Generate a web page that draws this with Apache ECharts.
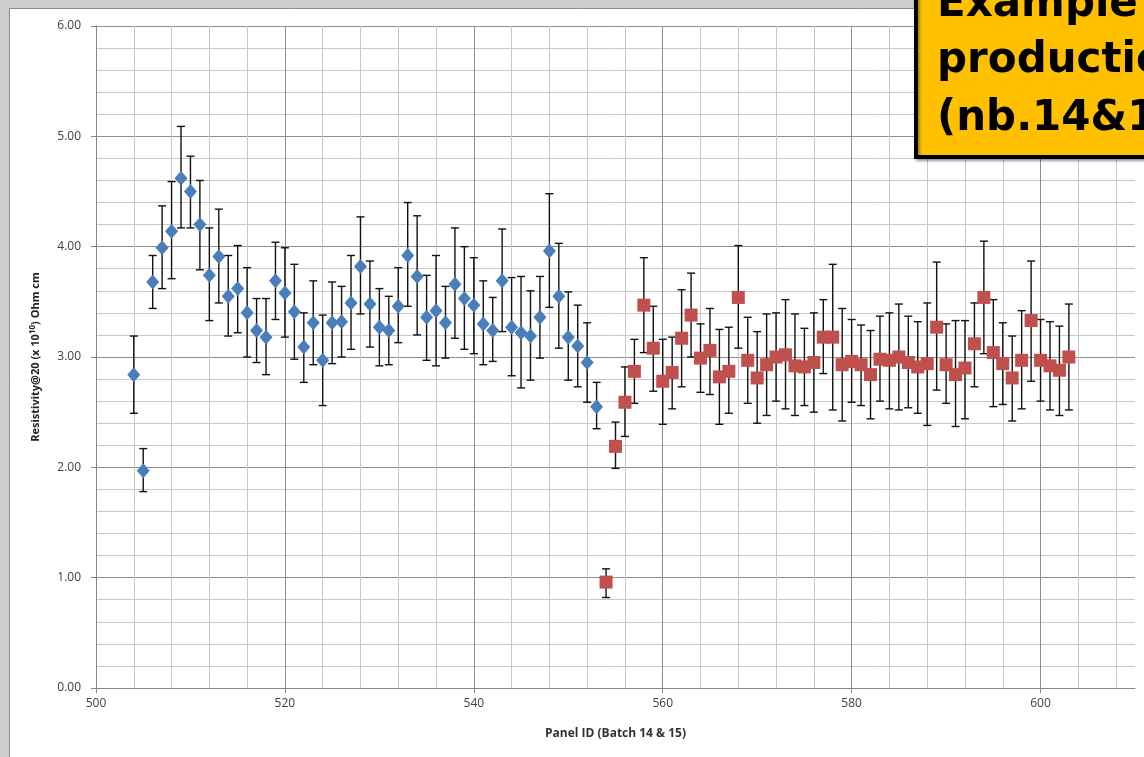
<!DOCTYPE html>
<html>
<head>
<meta charset="utf-8">
<script src="https://cdn.jsdelivr.net/npm/echarts@6/dist/echarts.min.js"></script>
<style>html,body{margin:0;padding:0;background:#fff}#c{width:1144px;height:757px}</style>
</head>
<body>
<div id="c"></div>
<script>
// Batch 14 (blue diamonds)
const blueIds  = [504,505,506,507,508,509,510,511,512,513,514,515,516,517,518,519,520,521,522,523,524,525,526,527,528,529,530,531,532,533,534,535,536,537,538,539,540,541,542,543,544,545,546,547,548,549,550,551,552,553];
const blueVals = [2.84,1.97,3.68,3.99,4.14,4.62,4.50,4.20,3.74,3.91,3.55,3.62,3.40,3.24,3.18,3.69,3.58,3.41,3.09,3.31,2.97,3.31,3.32,3.49,3.82,3.48,3.27,3.24,3.46,3.92,3.73,3.36,3.42,3.31,3.66,3.53,3.47,3.30,3.24,3.69,3.27,3.22,3.19,3.36,3.96,3.55,3.18,3.10,2.95,2.55];
const blueLow  = [2.49,1.78,3.44,3.62,3.71,4.17,4.17,3.79,3.33,3.49,3.19,3.22,3.00,2.95,2.84,3.34,3.18,2.98,2.77,2.93,2.56,2.94,3.00,3.07,3.39,3.09,2.92,2.93,3.13,3.46,3.20,2.97,2.92,2.99,3.17,3.07,3.03,2.93,2.96,3.23,2.83,2.72,2.79,2.99,3.45,3.08,2.79,2.73,2.59,2.35];
const blueHigh = [3.19,2.17,3.92,4.37,4.59,5.09,4.82,4.60,4.17,4.34,3.92,4.01,3.81,3.53,3.53,4.04,3.99,3.84,3.40,3.69,3.38,3.68,3.64,3.92,4.27,3.87,3.62,3.55,3.81,4.40,4.28,3.74,3.92,3.64,4.17,4.00,3.90,3.69,3.54,4.16,3.72,3.73,3.60,3.73,4.48,4.03,3.59,3.47,3.31,2.77];
// Batch 15 (red squares)
const redIds  = [554,555,556,557,558,559,560,561,562,563,564,565,566,567,568,569,570,571,572,573,574,575,576,577,578,579,580,581,582,583,584,585,586,587,588,589,590,591,592,593,594,595,596,597,598,599,600,601,602,603];
const redVals = [0.96,2.19,2.59,2.87,3.47,3.08,2.78,2.86,3.17,3.38,2.99,3.06,2.82,2.87,3.54,2.97,2.81,2.93,3.00,3.02,2.92,2.91,2.95,3.18,3.18,2.93,2.96,2.93,2.84,2.98,2.97,3.00,2.95,2.91,2.94,3.27,2.93,2.84,2.90,3.12,3.54,3.04,2.94,2.81,2.97,3.33,2.97,2.92,2.88,3.00];
const redLow  = [0.82,1.99,2.28,2.58,3.04,2.69,2.39,2.53,2.73,3.00,2.68,2.66,2.39,2.49,3.08,2.58,2.40,2.47,2.60,2.53,2.47,2.56,2.50,2.85,2.52,2.42,2.59,2.56,2.44,2.60,2.53,2.52,2.54,2.49,2.38,2.70,2.58,2.37,2.44,2.73,3.03,2.55,2.57,2.42,2.53,2.78,2.60,2.52,2.47,2.52];
const redHigh = [1.08,2.41,2.91,3.16,3.90,3.46,3.16,3.18,3.61,3.76,3.30,3.44,3.25,3.27,4.01,3.36,3.23,3.39,3.40,3.52,3.39,3.26,3.40,3.52,3.84,3.44,3.34,3.29,3.24,3.37,3.40,3.48,3.37,3.32,3.49,3.86,3.30,3.33,3.33,3.49,4.05,3.52,3.31,3.19,3.42,3.87,3.34,3.32,3.28,3.48];

const xLabels = ['500','520','540','560','580','600'];
const yLabels = ['0.00','1.00','2.00','3.00','4.00','5.00','6.00'];

const chart = echarts.init(document.getElementById('c'), null, {renderer: 'canvas'});

function errItem(params, api) {
  const x = api.value(0), lo = api.value(1), hi = api.value(2);
  const a = api.coord([x, hi]), b = api.coord([x, lo]);
  const w = 4;
  const st = {stroke: '#111', lineWidth: 1.4};
  return {type: 'group', children: [
    {type: 'line', shape: {x1: a[0], y1: a[1], x2: b[0], y2: b[1]}, style: st},
    {type: 'line', shape: {x1: a[0]-w, y1: a[1], x2: a[0]+w, y2: a[1]}, style: st},
    {type: 'line', shape: {x1: b[0]-w, y1: b[1], x2: b[0]+w, y2: b[1]}, style: st}
  ]};
}

const blueErr = blueIds.map((id, i) => [id, blueLow[i], blueHigh[i]]);
const redErr  = redIds.map((id, i) => [id, redLow[i], redHigh[i]]);
const bluePts = blueIds.map((id, i) => [id, blueVals[i]]);
const redPts  = redIds.map((id, i) => [id, redVals[i]]);

const labelFont = {fontFamily: 'Open Sans', fontSize: 12, color: '#404040'};
const boxFont = 'bold 42px "DejaVu Sans"';

chart.setOption({
  animation: false,
  backgroundColor: 'transparent',
  graphic: [
    {type: 'rect', z: -100, shape: {x: 0, y: 0, width: 1144, height: 757}, style: {fill: '#cdcdcd'}},
    {type: 'rect', z: -99, shape: {x: 9.5, y: 8.5, width: 1200, height: 800}, style: {fill: '#ffffff', stroke: '#8c8c8c', lineWidth: 1}},
    {type: 'rect', z: 100, shape: {x: 916, y: -10, width: 260, height: 167}, style: {fill: '#FFC000', stroke: '#000', lineWidth: 4, shadowColor: 'rgba(0,0,0,0.35)', shadowOffsetX: 2, shadowOffsetY: 2, shadowBlur: 3}},
    {type: 'text', z: 101, left: 937, top: -16, style: {text: 'Example', font: boxFont, fill: '#000'}},
    {type: 'text', z: 101, left: 937, top: 40, style: {text: 'production', font: boxFont, fill: '#000'}},
    {type: 'text', z: 101, left: 937, top: 98, style: {text: '(nb.14&15)', font: boxFont, fill: '#000'}}
  ],
  grid: {left: 96, top: 26, right: 9, bottom: 69, containLabel: false},
  xAxis: {
    type: 'value', min: 500, max: 610, interval: 20,
    name: 'Panel ID (Batch 14 & 15)', nameLocation: 'middle', nameGap: 40,
    nameTextStyle: {fontFamily: 'Open Sans', fontSize: 12, fontWeight: 'bold', color: '#333'},
    axisLine: {show: true, onZero: false, lineStyle: {color: '#868686', width: 1}},
    axisTick: {show: true, length: 5, lineStyle: {color: '#868686'}},
    axisLabel: Object.assign({margin: 10, showMaxLabel: false,
      formatter: v => xLabels.indexOf(String(v)) >= 0 ? String(v) : ''}, labelFont),
    splitLine: {show: true, lineStyle: {color: ['#8e8e8e','#8e8e8e','#8e8e8e','#8e8e8e','#8e8e8e','#8e8e8e','rgba(0,0,0,0)'], width: 1}},
    minorTick: {show: false, splitNumber: 5},
    minorSplitLine: {show: true, lineStyle: {color: '#c8c8c8', width: 1}}
  },
  yAxis: {
    type: 'value', min: 0, max: 6, interval: 1,
    name: '{b|Resistivity@20 (x 10}{s|10}{b|) Ohm cm}', nameLocation: 'middle', nameGap: 54, nameRotate: 90,
    nameTextStyle: {rich: {
      b: {fontFamily: 'Open Sans', fontSize: 11, fontWeight: 'bold', color: '#222'},
      s: {fontFamily: 'Open Sans', fontSize: 8, fontWeight: 'bold', color: '#222', verticalAlign: 'top', padding: [0,0,5,0]}
    }},
    axisLine: {show: true, lineStyle: {color: '#868686', width: 1}},
    axisTick: {show: true, length: 5, lineStyle: {color: '#868686'}},
    axisLabel: Object.assign({margin: 15, formatter: v => yLabels[Math.round(v)]}, labelFont),
    splitLine: {show: true, lineStyle: {color: '#8e8e8e', width: 1}},
    minorTick: {show: false, splitNumber: 5},
    minorSplitLine: {show: true, lineStyle: {color: '#c8c8c8', width: 1}}
  },
  series: [
    {type: 'custom', renderItem: errItem, data: blueErr, encode: {x: 0, y: [1, 2]}, z: 2, silent: true},
    {type: 'custom', renderItem: errItem, data: redErr, encode: {x: 0, y: [1, 2]}, z: 2, silent: true},
    {type: 'scatter', data: bluePts, symbol: 'diamond', symbolSize: [13, 15], z: 3,
      itemStyle: {color: '#4A7EBB', opacity: 1}},
    {type: 'scatter', data: redPts, symbol: 'rect', symbolSize: 13, z: 3,
      itemStyle: {color: '#C0504D', opacity: 1}}
  ]
});
</script>
</body>
</html>
